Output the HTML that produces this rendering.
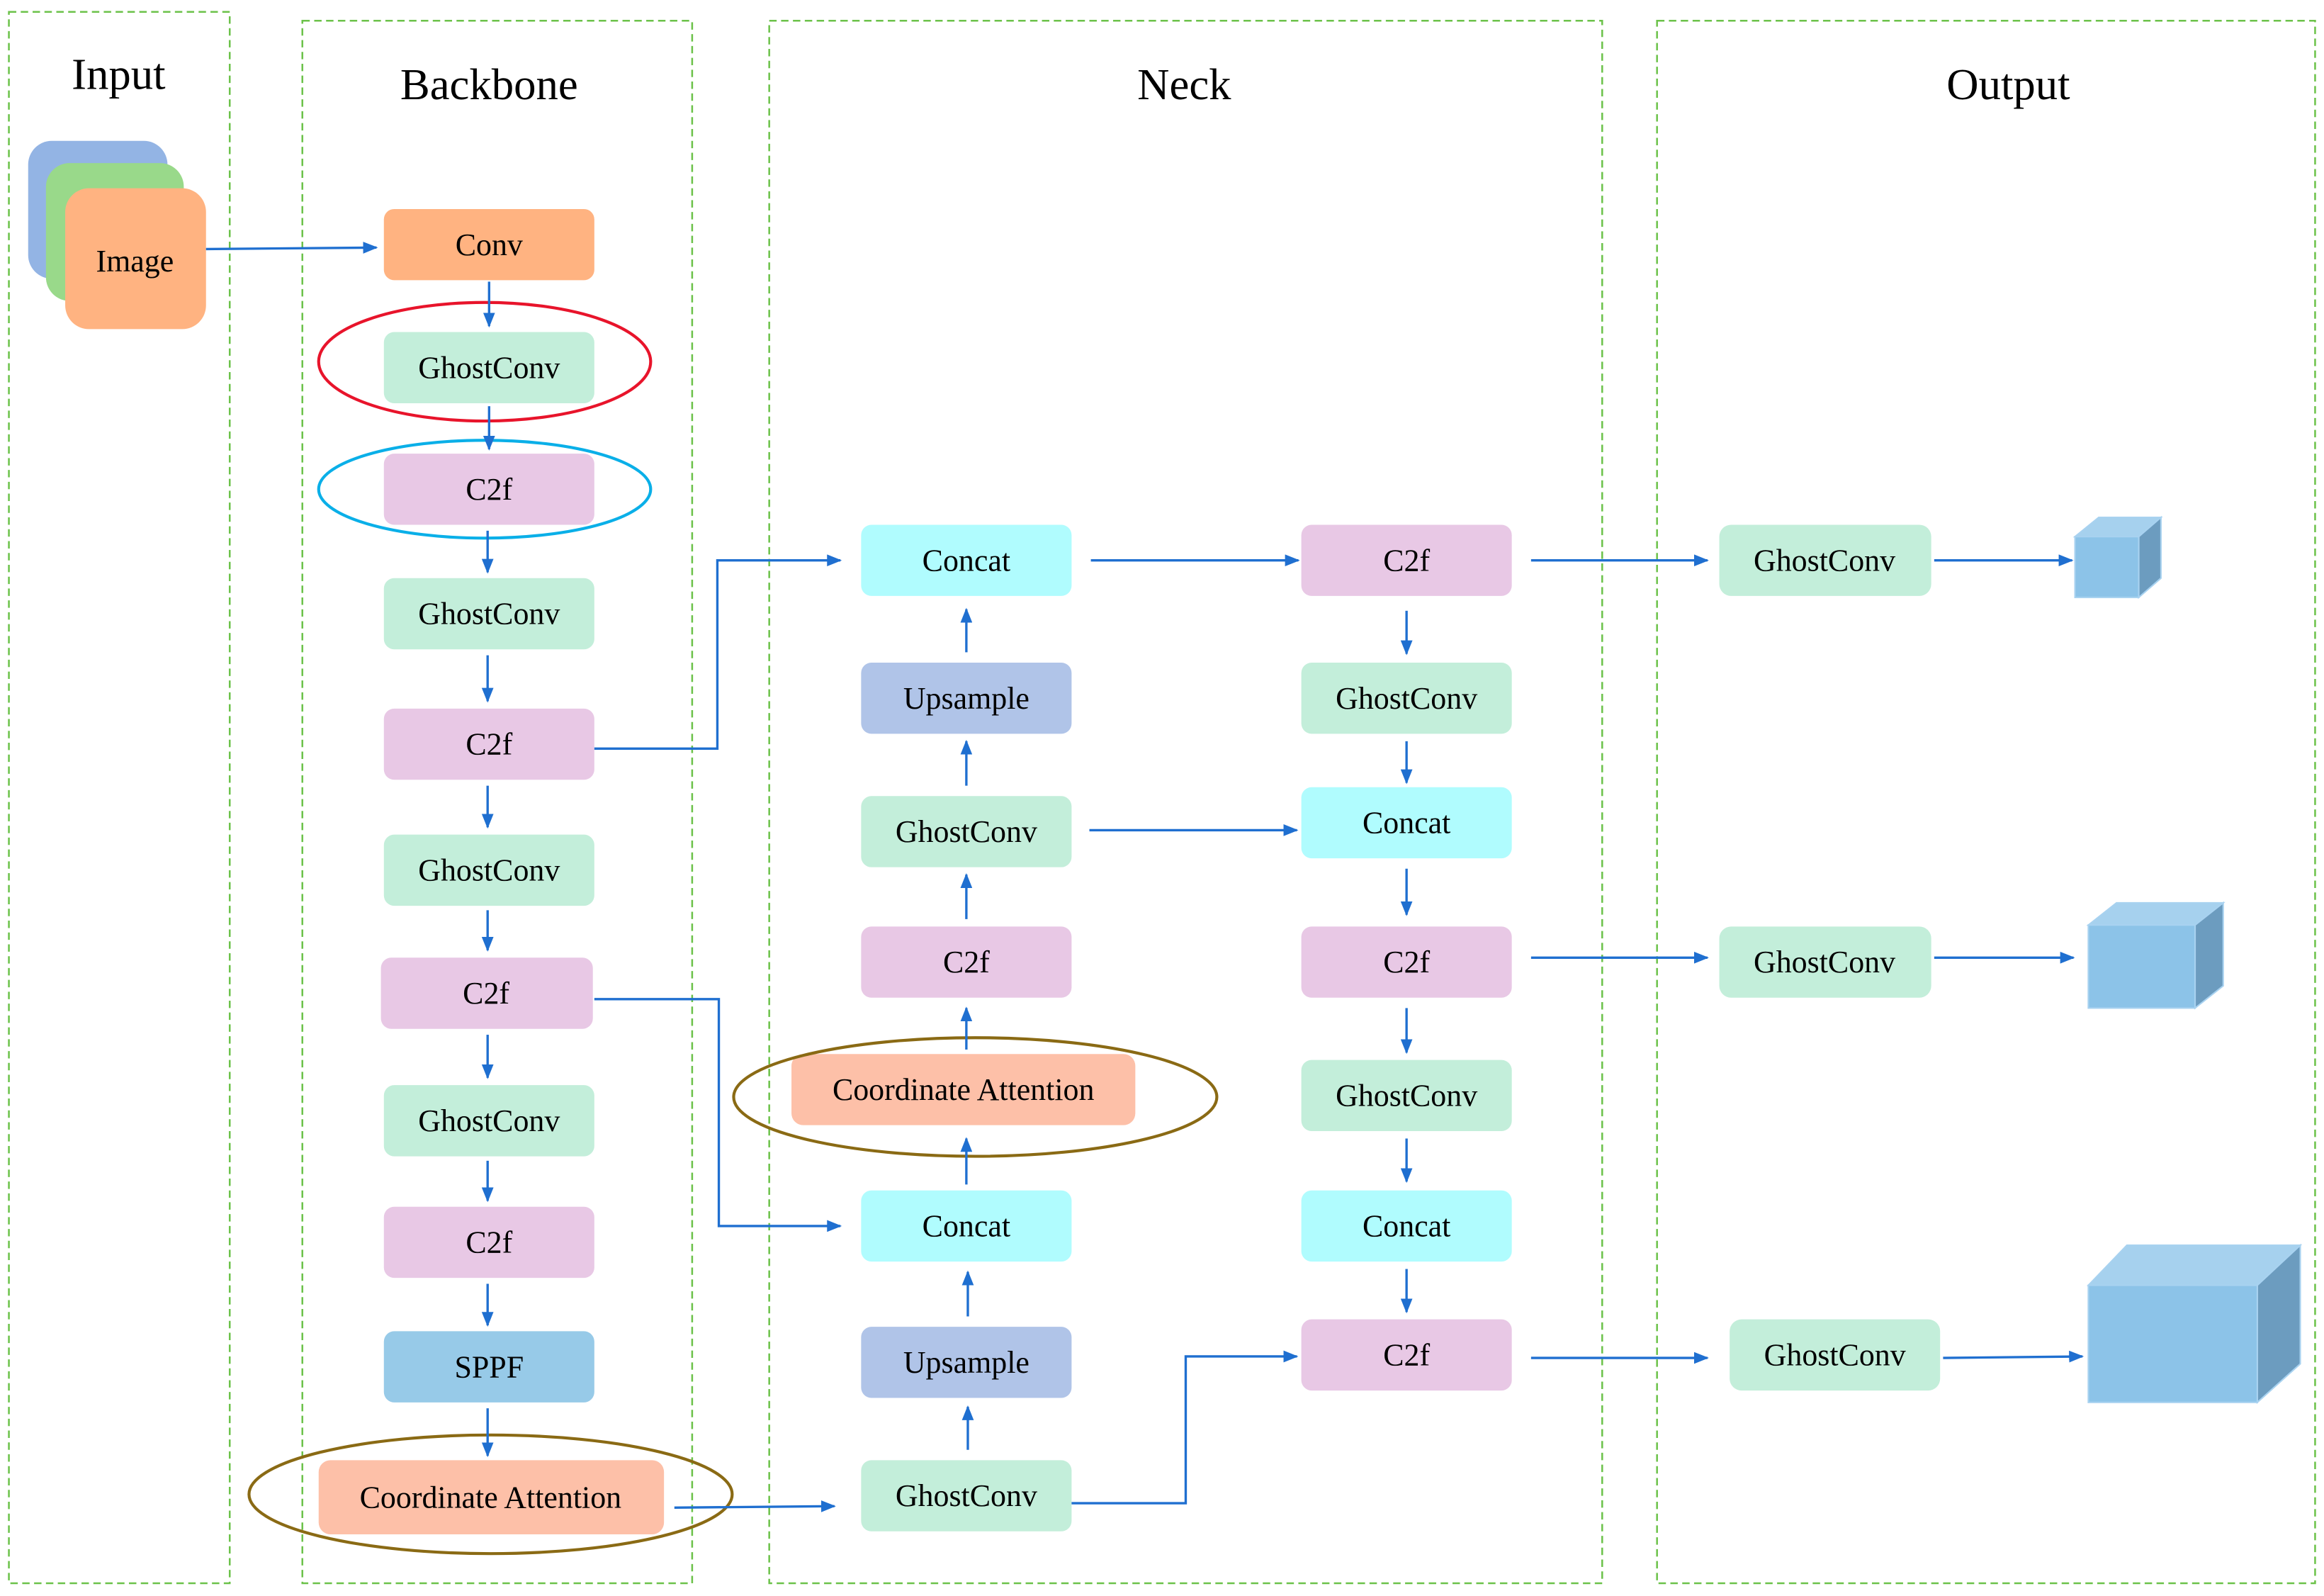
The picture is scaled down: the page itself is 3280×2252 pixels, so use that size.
<!DOCTYPE html>
<html><head><meta charset="utf-8"><style>
html,body{margin:0;padding:0;background:#fff;}
svg{display:block;}
text{font-family:"Liberation Serif",serif;fill:#000;}
</style></head><body>
<svg width="3280" height="2252" viewBox="0 0 1568 1076.6" preserveAspectRatio="none" xmlns="http://www.w3.org/2000/svg">
<defs>
<marker id="a" markerWidth="10" markerHeight="8" refX="9" refY="4" orient="auto" markerUnits="userSpaceOnUse">
<path d="M0,0 L10,4 L0,8 Z" fill="#1F6FD0"/></marker>
</defs>
<rect width="1568" height="1077" fill="#fff"/>
<g fill="none" stroke="#6CC24A" stroke-width="1.2" stroke-dasharray="5,3">
<rect x="6" y="8" width="149" height="1060"/>
<rect x="204" y="14" width="263" height="1054"/>
<rect x="519" y="14" width="562" height="1054"/>
<rect x="1118" y="14" width="444" height="1054"/>
</g>
<g font-size="30" text-anchor="middle">
<text x="80" y="60">Input</text>
<text x="330" y="67">Backbone</text>
<text x="799" y="67">Neck</text>
<text x="1355" y="67">Output</text>
</g>
<rect x="19" y="95" width="94" height="93" rx="16" fill="#93B4E4"/>
<rect x="31" y="110" width="93" height="93" rx="16" fill="#99D98A"/>
<rect x="44" y="127" width="95" height="95" rx="16" fill="#FFB381"/>
<text x="91" y="183" font-size="21" text-anchor="middle">Image</text>
<g font-size="21" text-anchor="middle">
<!-- backbone -->
<rect x="259" y="141" width="142" height="48" rx="7" fill="#FFB381"/><text x="330" y="172">Conv</text>
<rect x="259" y="224" width="142" height="48" rx="7" fill="#C3EEDA"/><text x="330" y="255">GhostConv</text>
<rect x="259" y="306" width="142" height="48" rx="7" fill="#E8C8E5"/><text x="330" y="337">C2f</text>
<rect x="259" y="390" width="142" height="48" rx="7" fill="#C3EEDA"/><text x="330" y="421">GhostConv</text>
<rect x="259" y="478" width="142" height="48" rx="7" fill="#E8C8E5"/><text x="330" y="509">C2f</text>
<rect x="259" y="563" width="142" height="48" rx="7" fill="#C3EEDA"/><text x="330" y="594">GhostConv</text>
<rect x="257" y="646" width="143" height="48" rx="7" fill="#E8C8E5"/><text x="328" y="677">C2f</text>
<rect x="259" y="732" width="142" height="48" rx="7" fill="#C3EEDA"/><text x="330" y="763">GhostConv</text>
<rect x="259" y="814" width="142" height="48" rx="7" fill="#E8C8E5"/><text x="330" y="845">C2f</text>
<rect x="259" y="898" width="142" height="48" rx="7" fill="#97CAE8"/><text x="330" y="929">SPPF</text>
<rect x="215" y="985" width="233" height="50" rx="8" fill="#FDC0A8"/><text x="331" y="1017">Coordinate Attention</text>
<!-- neck col1 -->
<rect x="581" y="354" width="142" height="48" rx="7" fill="#B0FCFE"/><text x="652" y="385">Concat</text>
<rect x="581" y="447" width="142" height="48" rx="7" fill="#B0C4E8"/><text x="652" y="478">Upsample</text>
<rect x="581" y="537" width="142" height="48" rx="7" fill="#C3EEDA"/><text x="652" y="568">GhostConv</text>
<rect x="581" y="625" width="142" height="48" rx="7" fill="#E8C8E5"/><text x="652" y="656">C2f</text>
<rect x="534" y="711" width="232" height="48" rx="8" fill="#FDC0A8"/><text x="650" y="742">Coordinate Attention</text>
<rect x="581" y="803" width="142" height="48" rx="7" fill="#B0FCFE"/><text x="652" y="834">Concat</text>
<rect x="581" y="895" width="142" height="48" rx="7" fill="#B0C4E8"/><text x="652" y="926">Upsample</text>
<rect x="581" y="985" width="142" height="48" rx="7" fill="#C3EEDA"/><text x="652" y="1016">GhostConv</text>
<!-- neck col2 -->
<rect x="878" y="354" width="142" height="48" rx="7" fill="#E8C8E5"/><text x="949" y="385">C2f</text>
<rect x="878" y="447" width="142" height="48" rx="7" fill="#C3EEDA"/><text x="949" y="478">GhostConv</text>
<rect x="878" y="531" width="142" height="48" rx="7" fill="#B0FCFE"/><text x="949" y="562">Concat</text>
<rect x="878" y="625" width="142" height="48" rx="7" fill="#E8C8E5"/><text x="949" y="656">C2f</text>
<rect x="878" y="715" width="142" height="48" rx="7" fill="#C3EEDA"/><text x="949" y="746">GhostConv</text>
<rect x="878" y="803" width="142" height="48" rx="7" fill="#B0FCFE"/><text x="949" y="834">Concat</text>
<rect x="878" y="890" width="142" height="48" rx="7" fill="#E8C8E5"/><text x="949" y="921">C2f</text>
<!-- output -->
<rect x="1160" y="354" width="143" height="48" rx="8" fill="#C3EEDA"/><text x="1231" y="385">GhostConv</text>
<rect x="1160" y="625" width="143" height="48" rx="8" fill="#C3EEDA"/><text x="1231" y="656">GhostConv</text>
<rect x="1167" y="890" width="142" height="48" rx="8" fill="#C3EEDA"/><text x="1238" y="921">GhostConv</text>
</g>
<!-- cubes -->
<g stroke="#A8D2F0" stroke-width="1">
<polygon points="1400,362 1416,349 1458,349 1443,362" fill="#A6D1EE"/>
<polygon points="1443,362 1458,349 1458,390 1443,403" fill="#6C9CBF"/>
<rect x="1400" y="362" width="43" height="41" fill="#8CC3E8"/>
<polygon points="1409,624 1428,609 1500,609 1481,624" fill="#A6D1EE"/>
<polygon points="1481,624 1500,609 1500,665 1481,680" fill="#6C9CBF"/>
<rect x="1409" y="624" width="72" height="56" fill="#8CC3E8"/>
<polygon points="1409,867 1435,840 1552,840 1523,867" fill="#A6D1EE"/>
<polygon points="1523,867 1552,840 1552,920 1523,946" fill="#6C9CBF"/>
<rect x="1409" y="867" width="114" height="79" fill="#8CC3E8"/>
</g>
<!-- ellipses -->
<g fill="none" stroke-width="2">
<ellipse cx="327" cy="244" rx="112" ry="40" stroke="#E8142B"/>
<ellipse cx="327" cy="330" rx="112" ry="33" stroke="#0AAFE8"/>
<ellipse cx="331" cy="1008" rx="163" ry="40" stroke="#8A6A14"/>
<ellipse cx="658" cy="740" rx="163" ry="40" stroke="#8A6A14"/>
</g>
<!-- arrows -->
<g fill="none" stroke="#1F6FD0" stroke-width="1.6" marker-end="url(#a)">
<path d="M139,168 L254,167"/>
<path d="M330,190 L330,220"/>
<path d="M330,274 L330,303"/>
<path d="M329,358 L329,386"/>
<path d="M329,442 L329,473"/>
<path d="M329,530 L329,558"/>
<path d="M329,614 L329,641"/>
<path d="M329,698 L329,727"/>
<path d="M329,783 L329,810"/>
<path d="M329,866 L329,894"/>
<path d="M329,950 L329,982"/>
<path d="M401,505 L484,505 L484,378 L567,378"/>
<path d="M401,674 L485,674 L485,827 L567,827"/>
<path d="M455,1017 L563,1016"/>
<path d="M652,440 L652,411"/>
<path d="M652,530 L652,500"/>
<path d="M652,620 L652,590"/>
<path d="M652,708 L652,680"/>
<path d="M652,799 L652,768"/>
<path d="M653,888 L653,858"/>
<path d="M653,978 L653,949"/>
<path d="M736,378 L876,378"/>
<path d="M735,560 L875,560"/>
<path d="M723,1014 L800,1014 L800,915 L875,915"/>
<path d="M949,412 L949,441"/>
<path d="M949,500 L949,528"/>
<path d="M949,586 L949,617"/>
<path d="M949,680 L949,710"/>
<path d="M949,768 L949,797"/>
<path d="M949,856 L949,885"/>
<path d="M1033,378 L1152,378"/>
<path d="M1033,646 L1152,646"/>
<path d="M1033,916 L1152,916"/>
<path d="M1305,378 L1398,378"/>
<path d="M1305,646 L1399,646"/>
<path d="M1311,916 L1405,915"/>
</g>
</svg>
</body></html>
